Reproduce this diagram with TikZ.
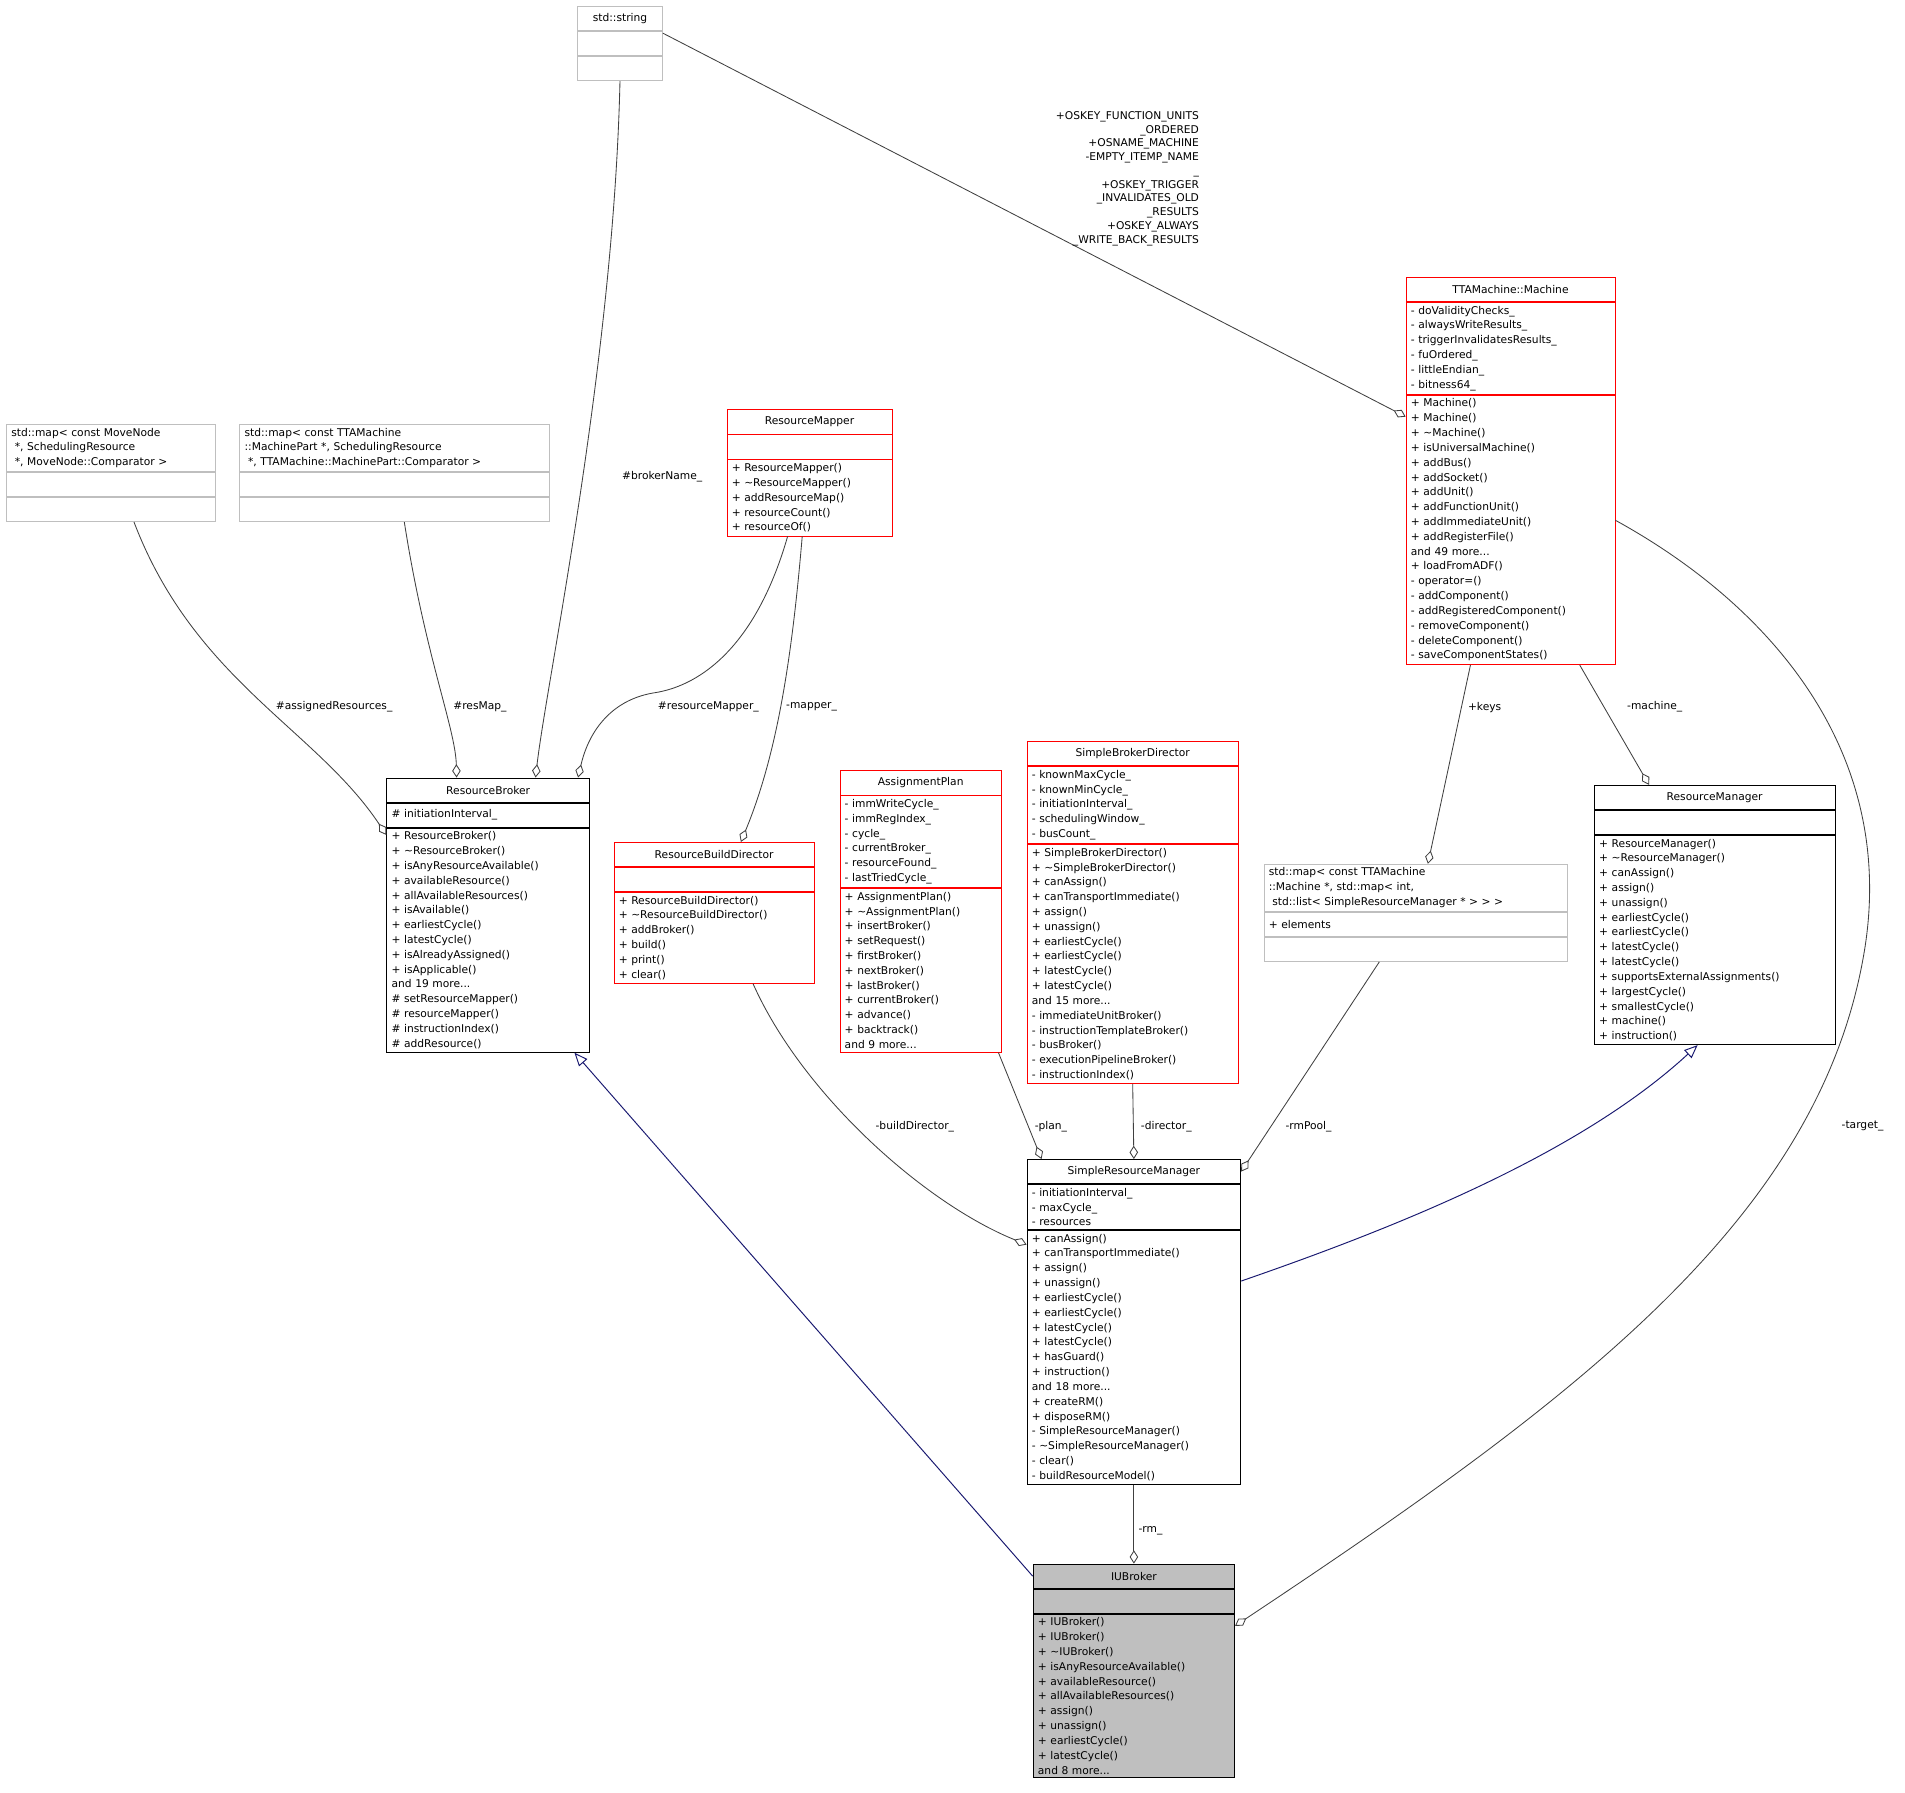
\documentclass[tikz,border=0pt]{standalone}
\usepackage{fontspec}
\setmainfont{DejaVu Sans}
\usetikzlibrary{arrows.meta,calc}
\definecolor{iug}{HTML}{BFBFBF}
\definecolor{edge}{HTML}{404040}
\definecolor{gbox}{HTML}{BFBFBF}
\definecolor{navy}{HTML}{191970}
\tikzset{
 sec/.style={rectangle,inner xsep=4pt,inner ysep=3pt,minimum height=20pt,font=\fontsize{8.8}{12.2}\selectfont,anchor=north west,line width=0.6pt},
 lab/.style={font=\fontsize{8.8}{11.3}\selectfont,inner sep=1pt},
 agg/.style={draw=edge,line width=0.7pt,-{Diamond[open,length=11pt,width=7pt]}},
 inh/.style={draw=navy,line width=0.8pt,-{Triangle[open,length=11pt,width=9pt]}},
}
\newcommand\cls[9][center]{%
 \node[sec,#6,text width=#5,align=#1] (#2-t) at (#3,#4) {#7};
 \node[sec,#6,text width=#5,align=left] (#2-a) at (#2-t.south west) {#8};
 \node[sec,#6,text width=#5,align=left] (#2-m) at (#2-a.south west) {#9};}
\newcommand\tl{\textasciitilde}
\begin{document}
\begin{tikzpicture}[x=1pt,y=-1pt]
\useasboundingbox (0,0) rectangle (1568,1475);
\cls{str}{475}{5}{62}{draw=gbox}{std::string}{}{}
\cls[left]{mpa}{5}{349}{164}{draw=gbox}{std::map< const MoveNode\\ \ *, SchedulingResource\\ \ *, MoveNode::Comparator >}{}{}
\cls[left]{mpb}{197}{349}{247}{draw=gbox}{std::map< const TTAMachine\\::MachinePart *, SchedulingResource\\ \ *, TTAMachine::MachinePart::Comparator >}{}{}
\cls{rmap}{598}{337}{128}{draw=red}{ResourceMapper}{}{+ ResourceMapper()\\+ \tl ResourceMapper()\\+ addResourceMap()\\+ resourceCount()\\+ resourceOf()}
\cls{mach}{1157}{228}{164}{draw=red}{TTAMachine::Machine}{- doValidityChecks\_\\- alwaysWriteResults\_\\- triggerInvalidatesResults\_\\- fuOrdered\_\\- littleEndian\_\\- bitness64\_}{+ Machine()\\+ Machine()\\+ \tl Machine()\\+ isUniversalMachine()\\+ addBus()\\+ addSocket()\\+ addUnit()\\+ addFunctionUnit()\\+ addImmediateUnit()\\+ addRegisterFile()\\and 49 more...\\+ loadFromADF()\\- operator=()\\- addComponent()\\- addRegisteredComponent()\\- removeComponent()\\- deleteComponent()\\- saveComponentStates()}
\cls{rb}{318}{640}{159}{draw=black}{ResourceBroker}{\# initiationInterval\_}{+ ResourceBroker()\\+ \tl ResourceBroker()\\+ isAnyResourceAvailable()\\+ availableResource()\\+ allAvailableResources()\\+ isAvailable()\\+ earliestCycle()\\+ latestCycle()\\+ isAlreadyAssigned()\\+ isApplicable()\\and 19 more...\\\# setResourceMapper()\\\# resourceMapper()\\\# instructionIndex()\\\# addResource()}
\cls{rbd}{505}{693}{157}{draw=red}{ResourceBuildDirector}{}{+ ResourceBuildDirector()\\+ \tl ResourceBuildDirector()\\+ addBroker()\\+ build()\\+ print()\\+ clear()}
\cls{ap}{691}{634}{125}{draw=red}{AssignmentPlan}{- immWriteCycle\_\\- immRegIndex\_\\- cycle\_\\- currentBroker\_\\- resourceFound\_\\- lastTriedCycle\_}{+ AssignmentPlan()\\+ \tl AssignmentPlan()\\+ insertBroker()\\+ setRequest()\\+ firstBroker()\\+ nextBroker()\\+ lastBroker()\\+ currentBroker()\\+ advance()\\+ backtrack()\\and 9 more...}
\cls{sbd}{845}{610}{166}{draw=red}{SimpleBrokerDirector}{- knownMaxCycle\_\\- knownMinCycle\_\\- initiationInterval\_\\- schedulingWindow\_\\- busCount\_}{+ SimpleBrokerDirector()\\+ \tl SimpleBrokerDirector()\\+ canAssign()\\+ canTransportImmediate()\\+ assign()\\+ unassign()\\+ earliestCycle()\\+ earliestCycle()\\+ latestCycle()\\+ latestCycle()\\and 15 more...\\- immediateUnitBroker()\\- instructionTemplateBroker()\\- busBroker()\\- executionPipelineBroker()\\- instructionIndex()}
\cls[left]{mpc}{1040}{711}{242}{draw=gbox}{std::map< const TTAMachine\\::Machine *, std::map< int,\\ \ std::list< SimpleResourceManager * > > >}{+ elements}{}
\cls{rman}{1312}{646}{190}{draw=black}{ResourceManager}{}{+ ResourceManager()\\+ \tl ResourceManager()\\+ canAssign()\\+ assign()\\+ unassign()\\+ earliestCycle()\\+ earliestCycle()\\+ latestCycle()\\+ latestCycle()\\+ supportsExternalAssignments()\\+ largestCycle()\\+ smallestCycle()\\+ machine()\\+ instruction()}
\cls{srm}{845}{954}{168}{draw=black}{SimpleResourceManager}{- initiationInterval\_\\- maxCycle\_\\- resources}{+ canAssign()\\+ canTransportImmediate()\\+ assign()\\+ unassign()\\+ earliestCycle()\\+ earliestCycle()\\+ latestCycle()\\+ latestCycle()\\+ hasGuard()\\+ instruction()\\and 18 more...\\+ createRM()\\+ disposeRM()\\- SimpleResourceManager()\\- \tl SimpleResourceManager()\\- clear()\\- buildResourceModel()}
\cls{iu}{850}{1287}{158}{draw=black,fill=iug}{IUBroker}{}{+ IUBroker()\\+ IUBroker()\\+ \tl IUBroker()\\+ isAnyResourceAvailable()\\+ availableResource()\\+ allAvailableResources()\\+ assign()\\+ unassign()\\+ earliestCycle()\\+ latestCycle()\\and 8 more...}
% aggregation edges
\draw[agg] (str-m.south) .. controls (505,300) and (450,560) .. ([xshift=39]rb-t.north);
\node[lab] (l1) at (545,392) {\#brokerName\_};
\draw[agg] ([yshift=-12]str-t.east) -- ([yshift=-18]mach-m.north west);
\node[lab,align=right] (l2) at (928,147) {+OSKEY\_FUNCTION\_UNITS\\\_ORDERED\\+OSNAME\_MACHINE\\-EMPTY\_ITEMP\_NAME\\\_\\+OSKEY\_TRIGGER\\\_INVALIDATES\_OLD\\\_RESULTS\\+OSKEY\_ALWAYS\\\_WRITE\_BACK\_RESULTS};
\draw[agg] ([xshift=19]mpa-m.south) .. controls (160,560) and (260,600) .. ([yshift=-6]rb-m.north west);
\node[lab] (l3) at (275,582) {\#assignedResources\_};
\draw[agg] ([xshift=8]mpb-m.south) .. controls (350,540) and (375,600) .. ([xshift=-26]rb-t.north);
\node[lab] (l4) at (395,582) {\#resMap\_};
\draw[agg] ([xshift=-18]rmap-m.south) .. controls (620,540) and (570,565) .. (540,570) .. controls (505,575) and (485,600) .. ([xshift=74]rb-t.north);
\node[lab] (l5) at (583,582) {\#resourceMapper\_};
\draw[agg] ([xshift=-6]rmap-m.south) .. controls (652,540) and (640,620) .. ([xshift=22]rbd-t.north);
\node[lab] (l6) at (668,582) {-mapper\_};
\draw[agg] ([xshift=-33]mach-m.south) -- ([xshift=10]mpc-t.north);
\node[lab] (l7) at (1222,582) {+keys};
\draw[agg] ([xshift=57]mach-m.south) -- ([xshift=-54]rman-t.north);
\node[lab] (l8) at (1362,582) {-machine\_};
\draw[agg] ([yshift=8]mach-m.east) .. controls (1460,500) and (1560,620) .. (1535,780) .. controls (1500,1000) and (1300,1150) .. ([yshift=-10]iu-m.north east);
\node[lab] (l9) at (1533,927) {-target\_};
\draw[agg] ([xshift=32]rbd-m.south) .. controls (660,900) and (760,990) .. ([yshift=-12]srm-m.north west);
\node[lab] (l10) at (753,927) {-buildDirector\_};
\draw[agg] ([xshift=64]ap-m.south) -- ([xshift=-76]srm-t.north);
\node[lab] (l11) at (865,927) {-plan\_};
\draw[agg] (sbd-m.south) -- (srm-t.north);
\node[lab] (l12) at (960,927) {-director\_};
\draw[agg] ([xshift=-30]mpc-m.south) -- (srm-t.east);
\node[lab] (l13) at (1077,927) {-rmPool\_};
\draw[agg] (srm-m.south) -- (iu-t.north);
\node[lab] (l14) at (947,1260) {-rm\_};
% inheritance
\draw[inh] (iu-t.west) -- ([xshift=71]rb-m.south);
\draw[inh] ([yshift=-42]srm-m.north east) .. controls (1150,1010) and (1300,950) .. ([xshift=-14]rman-m.south);
\end{tikzpicture}
\end{document}
